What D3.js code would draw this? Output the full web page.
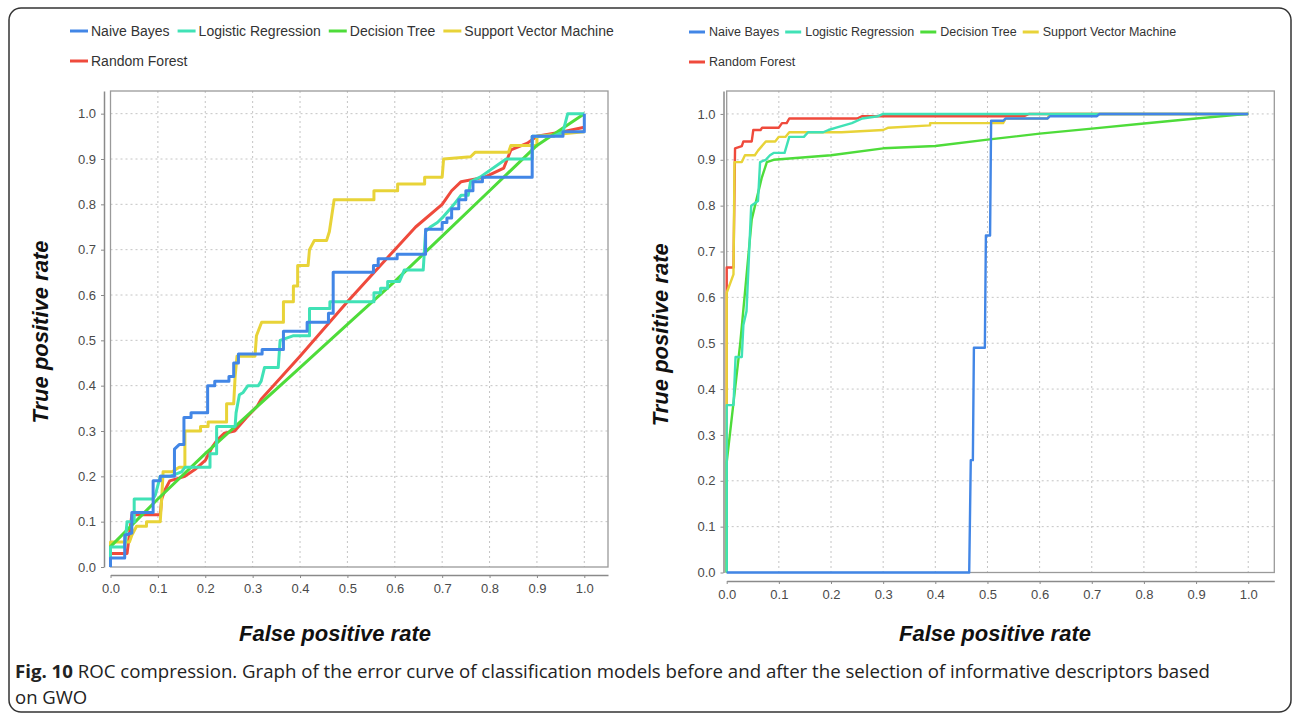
<!DOCTYPE html>
<html>
<head>
<meta charset="utf-8">
<script src="https://cdn.jsdelivr.net/npm/d3@7/dist/d3.min.js"></script>
<style>
  body { margin: 0; background: #fff; }
  svg { display: block; }
</style>
</head>
<body>
<svg id="chart" width="1292" height="717"></svg>
<script>
// series names / colours, same for both panels
const seriesNames = ['Naive Bayes', 'Logistic Regression', 'Decision Tree', 'Support Vector Machine', 'Random Forest'];
const seriesColors = ['#4286e6', '#40e2b6', '#4edc3a', '#e8d338', '#ef4a3c'];
const tickValues = [0, 0.1, 0.2, 0.3, 0.4, 0.5, 0.6, 0.7, 0.8, 0.9, 1.0];

// left panel: before descriptor selection  [fpr, tpr]
const beforeNaiveBayes = [[0,0],[0,0.02],[0.03,0.02],[0.03,0.07],[0.045,0.075],[0.045,0.12],[0.09,0.12],[0.09,0.19],[0.105,0.19],[0.105,0.2],[0.135,0.2],[0.135,0.26],[0.145,0.27],[0.155,0.27],[0.155,0.33],[0.17,0.33],[0.17,0.34],[0.205,0.34],[0.205,0.4],[0.22,0.4],[0.22,0.41],[0.25,0.41],[0.25,0.42],[0.26,0.42],[0.26,0.45],[0.27,0.45],[0.27,0.47],[0.32,0.47],[0.32,0.48],[0.365,0.48],[0.365,0.52],[0.415,0.52],[0.415,0.54],[0.46,0.54],[0.46,0.56],[0.47,0.56],[0.47,0.65],[0.555,0.65],[0.555,0.665],[0.565,0.665],[0.565,0.68],[0.605,0.68],[0.605,0.69],[0.665,0.69],[0.665,0.745],[0.7,0.745],[0.7,0.76],[0.71,0.76],[0.71,0.77],[0.72,0.77],[0.72,0.79],[0.735,0.79],[0.735,0.81],[0.75,0.81],[0.75,0.83],[0.765,0.83],[0.765,0.85],[0.785,0.85],[0.785,0.86],[0.89,0.86],[0.89,0.95],[0.955,0.95],[0.955,0.96],[1,0.96],[1,1]];
const beforeLogistic = [[0,0],[0,0.044],[0.03,0.044],[0.035,0.1],[0.05,0.1],[0.05,0.15],[0.09,0.15],[0.095,0.16],[0.105,0.2],[0.125,0.2],[0.15,0.21],[0.157,0.22],[0.21,0.22],[0.21,0.25],[0.224,0.25],[0.224,0.31],[0.263,0.31],[0.265,0.34],[0.272,0.38],[0.28,0.385],[0.29,0.4],[0.312,0.4],[0.318,0.41],[0.325,0.44],[0.354,0.44],[0.358,0.5],[0.385,0.51],[0.42,0.51],[0.42,0.57],[0.463,0.57],[0.463,0.585],[0.556,0.585],[0.556,0.605],[0.57,0.605],[0.57,0.615],[0.585,0.615],[0.585,0.63],[0.61,0.63],[0.62,0.655],[0.66,0.655],[0.665,0.74],[0.675,0.75],[0.69,0.76],[0.7,0.77],[0.717,0.79],[0.725,0.8],[0.74,0.82],[0.755,0.82],[0.76,0.85],[0.78,0.86],[0.835,0.9],[0.89,0.9],[0.89,0.95],[0.935,0.95],[0.955,0.96],[0.965,1],[1,1]];
const beforeTree = [[0,0],[0,0.045],[0.1,0.15],[0.2,0.25],[0.3,0.345],[0.4,0.44],[0.5,0.535],[0.6,0.63],[0.7,0.73],[0.8,0.83],[0.9,0.93],[1,1]];
const beforeSvm = [[0,0],[0,0.055],[0.04,0.055],[0.045,0.07],[0.055,0.09],[0.076,0.09],[0.076,0.1],[0.105,0.1],[0.108,0.15],[0.111,0.21],[0.13,0.21],[0.145,0.22],[0.157,0.22],[0.157,0.3],[0.19,0.3],[0.19,0.31],[0.206,0.31],[0.206,0.32],[0.245,0.32],[0.245,0.36],[0.26,0.36],[0.263,0.42],[0.267,0.465],[0.305,0.465],[0.308,0.51],[0.319,0.54],[0.365,0.54],[0.365,0.585],[0.386,0.585],[0.386,0.62],[0.395,0.62],[0.395,0.665],[0.417,0.665],[0.42,0.7],[0.43,0.72],[0.456,0.72],[0.462,0.74],[0.472,0.81],[0.556,0.81],[0.556,0.83],[0.606,0.83],[0.606,0.845],[0.663,0.845],[0.663,0.86],[0.7,0.86],[0.703,0.9],[0.76,0.905],[0.77,0.915],[0.84,0.915],[0.845,0.93],[0.9,0.93],[0.9,0.95],[1,0.96]];
const beforeForest = [[0,0],[0,0.03],[0.035,0.03],[0.045,0.115],[0.105,0.115],[0.108,0.15],[0.115,0.17],[0.125,0.19],[0.157,0.2],[0.178,0.215],[0.2,0.235],[0.215,0.265],[0.225,0.28],[0.24,0.295],[0.262,0.3],[0.287,0.33],[0.31,0.355],[0.318,0.37],[0.4,0.465],[0.5,0.585],[0.6,0.7],[0.644,0.75],[0.7,0.8],[0.72,0.83],[0.74,0.85],[0.79,0.86],[0.83,0.88],[0.845,0.92],[0.88,0.935],[0.9,0.95],[0.955,0.96],[1,0.97]];

// right panel: after GWO selection
const afterNaiveBayes = [[0,0],[0.465,0],[0.468,0.245],[0.472,0.245],[0.474,0.49],[0.495,0.49],[0.497,0.735],[0.505,0.735],[0.507,0.985],[0.53,0.985],[0.535,0.99],[0.615,0.99],[0.62,0.995],[0.71,0.995],[0.715,1],[1,1]];
const afterLogistic = [[0,0],[0,0.365],[0.013,0.365],[0.017,0.47],[0.029,0.47],[0.032,0.54],[0.038,0.57],[0.047,0.8],[0.06,0.81],[0.064,0.895],[0.075,0.9],[0.083,0.91],[0.09,0.915],[0.111,0.915],[0.12,0.95],[0.148,0.95],[0.156,0.96],[0.185,0.96],[0.195,0.965],[0.21,0.97],[0.24,0.98],[0.26,0.99],[0.29,0.995],[0.3,1],[1,1]];
const afterTree = [[0,0],[0,0.24],[0.026,0.5],[0.048,0.77],[0.067,0.86],[0.077,0.895],[0.09,0.9],[0.2,0.91],[0.3,0.925],[0.4,0.93],[0.5,0.944],[0.6,0.957],[0.7,0.968],[0.8,0.979],[0.9,0.99],[1,1]];
const afterSvm = [[0,0],[0,0.61],[0.013,0.65],[0.015,0.895],[0.029,0.895],[0.035,0.91],[0.054,0.91],[0.06,0.92],[0.075,0.94],[0.093,0.94],[0.1,0.95],[0.113,0.95],[0.12,0.96],[0.22,0.96],[0.3,0.965],[0.31,0.97],[0.39,0.975],[0.39,0.98],[0.53,0.98],[0.535,0.99],[0.615,0.99],[0.62,1],[1,1]];
const afterForest = [[0,0],[0,0.665],[0.013,0.665],[0.016,0.925],[0.029,0.93],[0.032,0.94],[0.048,0.94],[0.051,0.965],[0.065,0.965],[0.068,0.97],[0.1,0.97],[0.106,0.98],[0.115,0.98],[0.12,0.99],[0.25,0.99],[0.26,0.995],[0.57,0.995],[0.58,1],[1,1]];

const captionBold = 'Fig. 10';
const captionLine1 = ' ROC compression. Graph of the error curve of classification models before and after the selection of informative descriptors based';
const captionLine2 = 'on GWO';

const svg = d3.select('#chart');
const font = 'Arial, "Liberation Sans", sans-serif';

// outer rounded frame
svg.append('rect')
    .attr('x', 9).attr('y', 8)
    .attr('width', 1282).attr('height', 704)
    .attr('rx', 12)
    .style('fill', 'none')
    .style('stroke', '#333')
    .style('stroke-width', 1.5);

function RocPanel(props) {
    this.props = props;
    this.g = svg.append('g').attr('class', 'rocPanel');
    this.x = d3.scaleLinear().domain([0, 1.05]).range([props.left, props.right]);
    this.y = d3.scaleLinear().domain([0, 1.05]).range([props.bottom, props.top]);
}

RocPanel.prototype.draw = function (series) {
    var _this = this;
    var p = _this.props, x = _this.x, y = _this.y, g = _this.g;

    // grid
    var grid = g.append('g').attr('class', 'grid');
    grid.selectAll('line.vgrid').data(tickValues.slice(1)).enter()
        .append('line')
        .attr('x1', function (d) { return x(d) }).attr('x2', function (d) { return x(d) })
        .attr('y1', p.top).attr('y2', p.bottom);
    grid.selectAll('line.hgrid').data(tickValues.slice(1)).enter()
        .append('line')
        .attr('x1', p.left).attr('x2', p.right)
        .attr('y1', function (d) { return y(d) }).attr('y2', function (d) { return y(d) });
    grid.selectAll('line')
        .style('stroke', '#c4c4c4')
        .style('stroke-width', 1)
        .style('stroke-dasharray', '2,3');

    // plot frame
    g.append('rect')
        .attr('x', p.left).attr('y', p.top)
        .attr('width', p.right - p.left).attr('height', p.bottom - p.top)
        .style('fill', 'none').style('stroke', '#9a9a9a').style('stroke-width', 1.3);

    // axes, offset away from the frame
    var fmt = d3.format('.1f');
    var yAxis = g.append('g')
        .attr('transform', 'translate(' + p.yAxisX + ',0)')
        .call(d3.axisLeft(y).tickValues(tickValues).tickFormat(fmt).tickSizeInner(3).tickSizeOuter(0).tickPadding(5));
    var xAxis = g.append('g')
        .attr('transform', 'translate(0,' + p.xAxisY + ')')
        .call(d3.axisBottom(x).tickValues(tickValues).tickFormat(fmt).tickSizeInner(3).tickSizeOuter(0).tickPadding(6));
    [yAxis, xAxis].forEach(function (a) {
        a.select('.domain').style('stroke', '#8a8a8a').style('stroke-width', 1.5);
        a.selectAll('.tick line').style('stroke', '#8a8a8a');
        a.selectAll('.tick text')
            .style('font-family', font)
            .style('font-size', '13px')
            .style('fill', '#4a4a4a');
    });

    // curves, drawn last series first so Naive Bayes sits on top
    var line = d3.line()
        .x(function (d) { return x(d[0]) })
        .y(function (d) { return y(d[1]) });
    var order = [4, 3, 2, 1, 0];
    g.append('g').attr('class', 'curves')
        .selectAll('path').data(order).enter()
        .append('path')
        .attr('d', function (i) { return line(series[i]) })
        .style('fill', 'none')
        .style('stroke', function (i) { return seriesColors[i] })
        .style('stroke-width', p.lineWidth)
        .style('stroke-linejoin', 'round');

    // axis titles
    var titles = g.append('g').attr('class', 'titles')
        .style('font-family', font)
        .style('font-size', '22px')
        .style('font-weight', 'bold')
        .style('font-style', 'italic')
        .style('fill', '#111');
    titles.append('text')
        .attr('transform', 'translate(' + p.yTitleX + ',' + ((p.top + p.bottom) / 2 + 3) + ') rotate(-90)')
        .attr('text-anchor', 'middle')
        .attr('dominant-baseline', 'central')
        .text('True positive rate');
    titles.append('text')
        .attr('x', p.xTitleX).attr('y', 633)
        .attr('text-anchor', 'middle')
        .attr('dominant-baseline', 'central')
        .text('False positive rate');

    _this.drawLegend();
};

RocPanel.prototype.drawLegend = function () {
    var p = this.props;
    var lg = this.g.append('g').attr('class', 'legend');
    var cx = p.legendX;
    seriesNames.forEach(function (name, i) {
        var row = i < 4 ? p.legendY1 : p.legendY2;
        if (i === 4) cx = p.legendX;
        lg.append('line')
            .attr('x1', cx).attr('x2', cx + p.swatch)
            .attr('y1', row).attr('y2', row)
            .style('stroke', seriesColors[i])
            .style('stroke-width', 3);
        var t = lg.append('text')
            .attr('x', cx + p.swatch + p.gap)
            .attr('y', row)
            .attr('dominant-baseline', 'central')
            .style('font-family', font)
            .style('font-size', p.legendFont + 'px')
            .style('fill', '#333')
            .text(name);
        cx += p.swatch + p.gap + t.node().getComputedTextLength() + p.spacing;
    });
};

var before = new RocPanel({
    left: 110.5, right: 608, top: 91, bottom: 567,
    yAxisX: 104, xAxisY: 575, yTitleX: 40, xTitleX: 335,
    lineWidth: 3,
    legendX: 70, legendY1: 31, legendY2: 61, legendFont: 14, swatch: 18, gap: 3, spacing: 8
});
before.draw([beforeNaiveBayes, beforeLogistic, beforeTree, beforeSvm, beforeForest]);

var after = new RocPanel({
    left: 726.7, right: 1274.3, top: 91, bottom: 572.5,
    yAxisX: 723.5, xAxisY: 581, yTitleX: 660, xTitleX: 995,
    lineWidth: 2.4,
    legendX: 689, legendY1: 32, legendY2: 62, legendFont: 12.5, swatch: 16, gap: 4, spacing: 6
});
after.draw([afterNaiveBayes, afterLogistic, afterTree, afterSvm, afterForest]);

// caption, first line stretched to the width it has in the figure
var cap = svg.append('g').attr('class', 'caption')
    .style('font-family', '"Open Sans", "Noto Sans", sans-serif')
    .style('font-size', '18.5px')
    .style('fill', '#222');
var c1 = cap.append('text').attr('x', 15).attr('y', 678)
    .attr('textLength', 1195)
    .attr('lengthAdjust', 'spacingAndGlyphs');
c1.append('tspan').style('font-weight', 'bold').text(captionBold);
c1.append('tspan').text(captionLine1);
cap.append('text').attr('x', 15).attr('y', 704).text(captionLine2);
</script>
</body>
</html>
